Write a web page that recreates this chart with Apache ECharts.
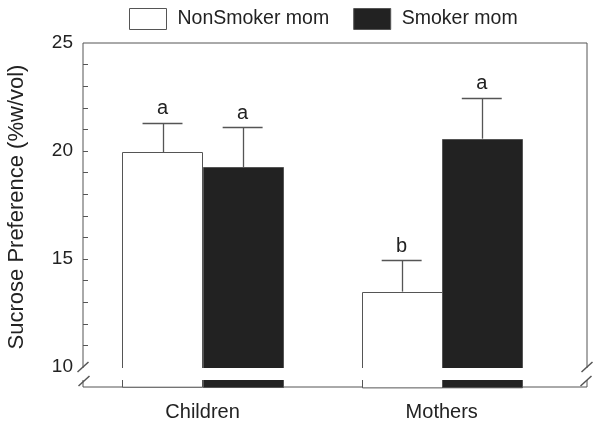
<!DOCTYPE html>
<html>
<head>
<meta charset="utf-8">
<script src="https://cdn.jsdelivr.net/npm/echarts@6/dist/echarts.min.js"></script>
<style>
html,body{margin:0;padding:0;background:#fff;}
#chart{width:600px;height:422px;}
</style>
</head>
<body>
<div id="chart"></div>
<script>
// ---- data ----
const categories = ['Children', 'Mothers'];
const seriesNames = ['NonSmoker mom', 'Smoker mom'];
const nonSmoker = [19.94, 13.49];
const smoker = [19.26, 20.57];
const nonSmokerErr = [1.37, 1.46];
const smokerErr = [1.85, 1.90];
const nonSmokerLetters = ['a', 'b'];
const smokerLetters = ['a', 'a'];
const yTickLabels = [10, 15, 20, 25];
const yMinorTicks = [11, 12, 13, 14, 15, 16, 17, 18, 19, 20, 21, 22, 23, 24];

// ---- layout constants ----
const Y_MIN = 9.074, Y_MAX = 25;
const X_MAX = 2.1075;
const BAR_W = 0.335;
const CAP_W = 0.167;
const FONT = "'Liberation Sans', Arial, Helvetica, sans-serif";
const LINE = '#555';
const INK = '#222';

function barRender(side, letters) {
  return function (params, api) {
    const i = api.value(0), v = api.value(1), e = api.value(2);
    const c = i + 0.5;
    const x0 = side < 0 ? c - BAR_W : c;
    const x1 = side < 0 ? c : c + BAR_W;
    const xm = (x0 + x1) / 2;
    const tl = api.coord([x0, v]);
    const br = api.coord([x1, Y_MIN]);
    const top = api.coord([xm, v]);
    const et = api.coord([xm, v + e]);
    const capHalf = api.size([CAP_W, 0])[0] / 2;
    const fill = side < 0 ? '#ffffff' : INK;
    return {
      type: 'group',
      children: [
        { type: 'rect', shape: { x: Math.round(tl[0]) + 0.5, y: Math.round(tl[1]) + 0.5, width: Math.round(br[0] - tl[0]), height: br[1] - tl[1] },
          style: { fill: fill, stroke: LINE, lineWidth: 1 } },
        { type: 'line', shape: { x1: Math.round(top[0]) + 0.5, y1: top[1], x2: Math.round(top[0]) + 0.5, y2: Math.round(et[1]) },
          style: { stroke: LINE, lineWidth: 1.3 } },
        { type: 'line', shape: { x1: top[0] - capHalf, y1: Math.round(et[1]) + 0.5, x2: top[0] + capHalf, y2: Math.round(et[1]) + 0.5 },
          style: { stroke: LINE, lineWidth: 1.3 } },
        { type: 'text', style: { text: letters[params.dataIndex], x: top[0], y: et[1] - 14, align: 'center', verticalAlign: 'middle',
          fill: INK, font: '20px ' + FONT } }
      ]
    };
  };
}

const chart = echarts.init(document.getElementById('chart'), null, { renderer: 'canvas' });
const option = {
  animation: false,
  backgroundColor: '#fff',
  textStyle: { fontFamily: FONT },
  legend: {
    left: 129, top: 8, padding: 0,
    itemWidth: 37, itemHeight: 21, itemGap: 24,
    textStyle: { fontSize: 19.5, color: INK, fontFamily: FONT, padding: [0, 0, 0, 6] },
    data: [
      { name: seriesNames[0], icon: 'rect', itemStyle: { color: '#fff', borderColor: LINE, borderWidth: 1 } },
      { name: seriesNames[1], icon: 'rect', itemStyle: { color: INK, borderColor: LINE, borderWidth: 1 } }
    ]
  },
  grid: { left: 83, right: 13, top: 43, bottom: 35, show: true, borderColor: LINE, borderWidth: 1,
          backgroundColor: 'transparent', containLabel: false, outerBoundsMode: 'none' },
  xAxis: {
    type: 'value', min: 0, max: X_MAX,
    splitLine: { show: false },
    axisLine: { show: false },
    axisTick: { show: false },
    axisLabel: {
      customValues: categories.map((c, i) => i + 0.5),
      formatter: function (v) { return categories[Math.round(v - 0.5)] || ''; },
      fontSize: 20, color: INK, fontFamily: FONT, margin: 15
    }
  },
  yAxis: {
    type: 'value', min: Y_MIN, max: Y_MAX,
    name: 'Sucrose Preference (%w/vol)',
    nameLocation: 'middle', nameGap: 55,
    nameTextStyle: { fontSize: 22, color: INK, fontFamily: FONT, padding: [0, 0, 0, 16] },
    splitLine: { show: false },
    axisLine: { show: false },
    axisTick: { show: true, inside: true, length: 5, customValues: yMinorTicks, lineStyle: { color: LINE } },
    axisLabel: { customValues: yTickLabels, fontSize: 19, color: INK, fontFamily: FONT, margin: 10 }
  },
  series: [
    {
      name: seriesNames[0], type: 'custom',
      itemStyle: { color: '#fff', borderColor: LINE, borderWidth: 1 },
      renderItem: barRender(-1, nonSmokerLetters),
      encode: { x: 0, y: 1 },
      data: categories.map((c, i) => [i, nonSmoker[i], nonSmokerErr[i]])
    },
    {
      name: seriesNames[1], type: 'custom',
      itemStyle: { color: INK, borderColor: LINE, borderWidth: 1 },
      renderItem: barRender(1, smokerLetters),
      encode: { x: 0, y: 1 },
      data: categories.map((c, i) => [i, smoker[i], smokerErr[i]])
    }
  ]
};
chart.setOption(option);

// axis break decoration (gap between 0 and 10)
const p10 = chart.convertToPixel({ gridIndex: 0 }, [0, 10]);
const pR = chart.convertToPixel({ gridIndex: 0 }, [X_MAX, 10]);
const yTop = p10[1];
const yBot = yTop + 14;
function slash(x, y) {
  return { type: 'line', z: 101, shape: { x1: x - 5.5, y1: y + 5, x2: x + 5.5, y2: y - 5 }, style: { stroke: LINE, lineWidth: 1.5 } };
}
chart.setOption({
  graphic: [
    { type: 'rect', z: 100, shape: { x: p10[0] - 8, y: yTop + 1, width: pR[0] - p10[0] + 16, height: yBot - yTop - 2 }, style: { fill: '#fff' } },
    slash(p10[0], yTop), slash(p10[0] + 1, yBot),
    slash(pR[0], yTop), slash(pR[0] - 1, yBot)
  ]
});
</script>
</body>
</html>
